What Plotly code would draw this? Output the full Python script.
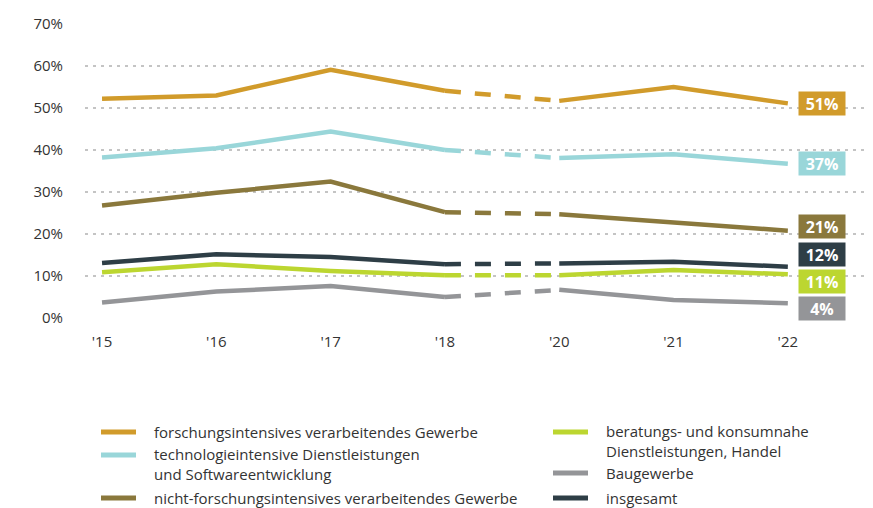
import plotly.graph_objects as go

years = ["'15", "'16", "'17", "'18", "'20", "'21", "'22"]
forsch = [52.2, 53.0, 59.1, 54.1, 51.7, 55.0, 51.1]
tech = [38.2, 40.4, 44.4, 40.0, 38.1, 39.0, 36.7]
nicht = [26.8, 29.8, 32.5, 25.2, 24.7, 22.8, 20.8]
berat = [10.9, 12.8, 11.2, 10.2, 10.2, 11.4, 10.4]
bau = [3.7, 6.3, 7.6, 5.0, 6.7, 4.3, 3.5]
insg = [13.1, 15.2, 14.5, 12.8, 13.0, 13.4, 12.2]
y_ticks = [0, 10, 20, 30, 40, 50, 60, 70]
y_ticktext = ["0%", "10%", "20%", "30%", "40%", "50%", "60%", "70%"]

names = [
    "forschungsintensives verarbeitendes Gewerbe",
    "technologieintensive Dienstleistungen<br>und Softwareentwicklung",
    "nicht-forschungsintensives verarbeitendes Gewerbe",
    "beratungs- und konsumnahe<br>Dienstleistungen, Handel",
    "Baugewerbe",
    "insgesamt",
]
end_labels = ["51%", "37%", "21%", "11%", "4%", "12%"]
colors = ["#D19B2B", "#99D6D9", "#8A783C", "#BCD630", "#949598", "#2E3E46"]
series = [forsch, tech, nicht, berat, bau, insg]
label_shift = [0, 0, 4, -7, -5, 12]  # vertical label offsets (px) to avoid overlaps

# page has an 8px body margin; figure coordinates are page coords minus 8
OFF = 8
W, H = 865, 500
ML, MR, MT, MB = 77, 0, 16, 190
PW, PH = W - ML - MR, H - MT - MB

def px(xp):
    return (xp - OFF - ML) / PW

def py(yp):
    return (H - MB - (yp - OFF)) / PH

fig = go.Figure()
draw_order = [4, 3, 5, 2, 1, 0]
for i in draw_order:
    vals = series[i]
    c = colors[i]
    fig.add_trace(go.Scatter(x=years[:4], y=vals[:4], mode="lines",
                             line=dict(color=c, width=4.5), showlegend=False, hoverinfo="skip"))
    fig.add_trace(go.Scatter(x=years[3:5], y=vals[3:5], mode="lines",
                             line=dict(color=c, width=4.5, dash="16px,14px"), showlegend=False, hoverinfo="skip"))
    fig.add_trace(go.Scatter(x=years[4:], y=vals[4:], mode="lines",
                             line=dict(color=c, width=4.5), showlegend=False, hoverinfo="skip"))

annotations = []
shapes = []
for i in range(6):
    annotations.append(dict(
        x=years[-1], y=series[i][-1], xref="x", yref="y",
        text="<b>%s</b>" % end_labels[i], showarrow=False,
        font=dict(family="Open Sans", size=16, color="white"),
        bgcolor=colors[i], width=42, height=19, borderpad=2,
        xanchor="center", yanchor="middle", xshift=34, yshift=label_shift[i],
    ))

# manual legend (page pixel positions)
leg = [
    (0, 101, 152, 432, 1),
    (1, 101, 152, 464, 2),
    (2, 101, 152, 498, 1),
    (3, 553, 604, 441, 2),
    (4, 553, 604, 473, 1),
    (5, 553, 604, 498, 1),
]
for i, x0, xt, yc, nl in leg:
    ly = yc if nl == 1 else yc - 9
    shapes.append(dict(type="line", xref="paper", yref="paper",
                       x0=px(x0), x1=px(x0 + 35), y0=py(ly), y1=py(ly),
                       line=dict(color=colors[i], width=5)))
    annotations.append(dict(x=px(xt), y=py(yc), xref="paper", yref="paper",
                            text=names[i], showarrow=False, align="left",
                            xanchor="left", yanchor="middle",
                            font=dict(family="Open Sans", size=15, color="#333333")))

fig.update_layout(
    width=W, height=H,
    margin=dict(l=ML, r=MR, t=MT, b=MB),
    plot_bgcolor="white", paper_bgcolor="white",
    font=dict(family="Open Sans", size=14, color="#333333"),
    annotations=annotations, shapes=shapes,
    showlegend=False,
)
fig.update_xaxes(type="category", range=[-0.149, 6.745], showgrid=False, zeroline=False,
                 showline=False, ticks="", ticklabelstandoff=13,
                 tickfont=dict(family="Open Sans", size=15, color="#333333"))
fig.update_yaxes(range=[0, 70], tickvals=y_ticks, ticktext=y_ticktext,
                 showgrid=True, gridcolor="#c4c4c4", gridwidth=1.5, griddash="3px,5px",
                 zeroline=False, showline=False, ticks="", ticklabelstandoff=21,
                 tickfont=dict(family="Open Sans", size=15, color="#333333"))

fig.write_html("out.html")
